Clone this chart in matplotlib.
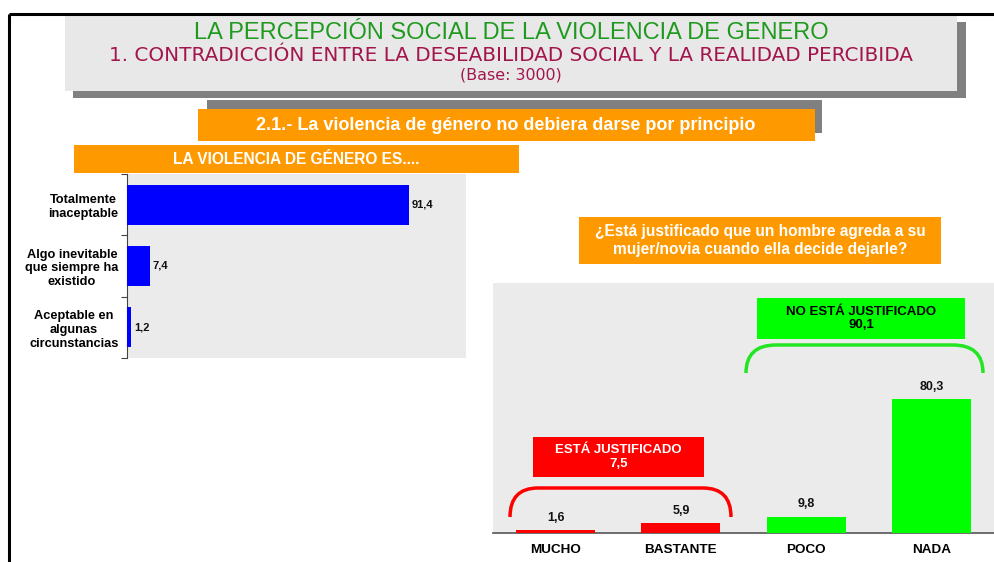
import matplotlib
matplotlib.use("Agg")
import matplotlib.pyplot as plt
from matplotlib.patches import Rectangle
from matplotlib.path import Path
from matplotlib.patches import PathPatch

# ---- data ----
left_categories = ["Totalmente\ninaceptable", "Algo inevitable\nque siempre ha\nexistido",
                   "Aceptable en\nalgunas\ncircunstancias"]
left_values = [91.4, 7.4, 1.2]

right_categories = ["MUCHO", "BASTANTE", "POCO", "NADA"]
right_values = [1.6, 5.9, 9.8, 80.3]
right_colors = ["#ff0000", "#ff0000", "#00ff00", "#00ff00"]

title_lines = ["LA PERCEPCIÓN SOCIAL DE LA VIOLENCIA DE GENERO",
               "1. CONTRADICCIÓN ENTRE LA DESEABILIDAD SOCIAL Y LA REALIDAD PERCIBIDA",
               "(Base: 3000)"]
section_title = "2.1.- La violencia de género no debiera darse por principio"
left_title = "LA VIOLENCIA DE GÉNERO ES...."
right_question = "¿Está justificado que un hombre agreda a su\nmujer/novia cuando ella decide dejarle?"
justified_label = "ESTÁ JUSTIFICADO\n7,5"
not_justified_label = "NO ESTÁ JUSTIFICADO\n90,1"

plt.rcParams['font.family'] = ['Liberation Sans', 'DejaVu Sans']

W, H = 994, 562
fig = plt.figure(figsize=(W / 100, H / 100), dpi=100)


def px_axes(x0, y0, x1, y1, **kw):
    return fig.add_axes([x0 / W, 1 - y1 / H, (x1 - x0) / W, (y1 - y0) / H], **kw)


def fmt(v):
    return f"{v:.1f}".replace('.', ',')


BG = "#ebebeb"

# ---- left chart ----
axl = px_axes(127, 174, 466, 358)
axl.set_facecolor(BG)
ypos = list(range(len(left_values)))
axl.barh(ypos, left_values, height=0.65, color="#0000ff", zorder=3)
for y, v in zip(ypos, left_values):
    axl.text(v + 1.0, y, fmt(v), va='center', ha='left', fontsize=8,
             fontweight='bold', color='#111111', zorder=4)
axl.set_xlim(0, 110)
axl.set_ylim(len(left_values) - 0.5, -0.5)
axl.set_yticks([y - 0.5 for y in ypos] + [len(ypos) - 0.5])
axl.set_yticklabels([])
axl.set_yticks(ypos, minor=True)
axl.set_yticklabels(left_categories, minor=True, fontsize=9.2, fontweight='bold',
                    multialignment='center')
axl.tick_params(axis='y', which='major', length=4, width=0.8, color='#444444', direction='out')
axl.tick_params(axis='y', which='minor', length=0, pad=6)
axl.set_xticks([])
for s in ['top', 'right', 'bottom']:
    axl.spines[s].set_visible(False)
axl.spines['left'].set_color('#444444')
axl.spines['left'].set_linewidth(0.8)

# ---- right chart ----
axr = px_axes(493, 283, 994, 533)
axr.set_facecolor(BG)
xpos = list(range(len(right_values)))
axr.bar(xpos, right_values, width=0.63, color=right_colors, zorder=3)
for x, v in zip(xpos, right_values):
    axr.text(x, v + 4, fmt(v), ha='center', va='bottom', fontsize=9,
             fontweight='bold', color='#111111', zorder=4)
axr.set_xlim(-0.5, 3.5)
axr.set_ylim(0, 150)
axr.set_xticks(xpos)
axr.set_xticklabels(right_categories, fontsize=9.7, fontweight='bold')
axr.tick_params(axis='x', length=0, pad=8)
axr.set_yticks([])
for s in ['top', 'right', 'left']:
    axr.spines[s].set_visible(False)
axr.spines['bottom'].set_color('#555555')
axr.spines['bottom'].set_linewidth(1.2)

# ---- overlay for decorations ----
ov = fig.add_axes([0, 0, 1, 1], zorder=10)
ov.set_xlim(0, W)
ov.set_ylim(H, 0)
ov.axis('off')

# frame lines
ov.plot([8.5, W], [13.5, 13.5], color='black', lw=2.2, solid_capstyle='butt')
ov.plot([8.5, 8.5], [13.5, H], color='black', lw=2.2, solid_capstyle='butt')

# title box with shadow
ov.add_patch(Rectangle((73, 22), 893, 76, facecolor='#808080', edgecolor='none'))
ov.add_patch(Rectangle((65, 15), 892, 76, facecolor='#e8e8e8', edgecolor='none'))
ov.text(511, 33, title_lines[0], ha='center', va='center', fontsize=17, color='#1f9a1f')
ov.text(511, 55.5, title_lines[1], ha='center', va='center', fontsize=14.4,
        color='#a3164d', family=['DejaVu Sans'])
ov.text(511, 75.5, title_lines[2], ha='center', va='center', fontsize=11.4,
        color='#a3164d', family=['DejaVu Sans'])

# section banner
ov.add_patch(Rectangle((207, 100), 615, 33, facecolor='#808080', edgecolor='none'))
ov.add_patch(Rectangle((198, 109), 617, 32, facecolor='#ff9900', edgecolor='none'))
ov.text(506, 125, section_title, ha='center', va='center', fontsize=13,
        fontweight='bold', color='white')

# left title banner
ov.add_patch(Rectangle((74, 145), 445, 28, facecolor='#ff9900', edgecolor='none'))
ov.text(296, 159.5, left_title, ha='center', va='center', fontsize=11.2,
        fontweight='bold', color='white')

# right question banner
ov.add_patch(Rectangle((579, 217), 362, 47, facecolor='#ff9900', edgecolor='none'))
ov.text(760, 240.5, right_question, ha='center', va='center', fontsize=11.2,
        fontweight='bold', color='white', linespacing=1.2)


def brace(x0, x1, ytop, ybot, r, color):
    verts = [(x0, ybot), (x0, ytop), (x0 + r, ytop), (x1 - r, ytop),
             (x1, ytop), (x1, ybot)]
    codes = [Path.MOVETO, Path.CURVE3, Path.CURVE3, Path.LINETO, Path.CURVE3, Path.CURVE3]
    ov.add_patch(PathPatch(Path(verts, codes), facecolor='none', edgecolor=color, lw=2.5))


brace(510, 731, 488, 517, 28, '#ff0000')
brace(746, 983, 345, 373, 30, '#22e622')

ov.add_patch(Rectangle((533, 437), 171, 40, facecolor='#ff0000', edgecolor='none'))
ov.text(618.5, 457, justified_label, ha='center', va='center', fontsize=9.5,
        fontweight='bold', color='white', linespacing=1.2)

ov.add_patch(Rectangle((757, 298), 208, 41, facecolor='#00ff00', edgecolor='none'))
ov.text(861, 318.5, not_justified_label, ha='center', va='center', fontsize=9.5,
        fontweight='bold', color='black', linespacing=1.2)

fig.savefig("out.png", dpi=100)
